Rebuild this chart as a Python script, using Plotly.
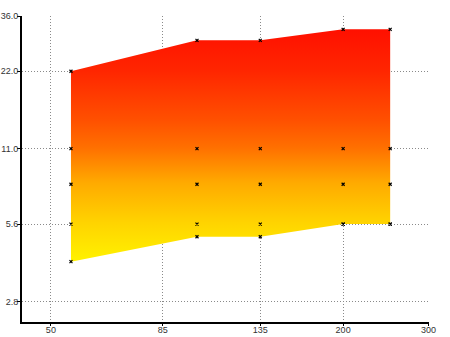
import plotly.graph_objects as go
import math

# Sample sizes along the x axis
x_vals = [55, 100, 135, 200, 250]

# Band series (low to high)
band_low = [4.0, 5.0, 5.0, 5.6, 5.6]
level_a = [5.6, 5.6, 5.6, 5.6, 5.6]
level_b = [8.0, 8.0, 8.0, 8.0, 8.0]
level_c = [11.0, 11.0, 11.0, 11.0, 11.0]
band_high = [22.0, 29.0, 29.0, 32.0, 32.0]

x_ticks = [50, 85, 135, 200, 300]
x_tick_text = ["50", "85", "135", "200", "300"]
y_ticks = [2.8, 5.6, 11.0, 22.0, 36.0]
y_tick_text = ["2.8", "5.6", "11.0", "22.0", "36.0"]

grad = [
    [0.0, "#fff200"],
    [0.165, "#ffd400"],
    [0.34, "#ffaa00"],
    [0.49, "#ff7000"],
    [0.61, "#ff5000"],
    [0.82, "#ff2600"],
    [1.0, "#ff1000"],
]

fig = go.Figure()

# Filled band between the lowest and highest series
fig.add_trace(go.Scatter(
    x=x_vals + x_vals[::-1],
    y=band_high + band_low[::-1],
    mode="lines",
    line=dict(width=0),
    fill="toself",
    fillgradient=dict(type="vertical", colorscale=grad),
    hoverinfo="skip",
    showlegend=False,
))

# Markers for every series
for series in [band_low, level_a, level_b, level_c, band_high]:
    fig.add_trace(go.Scatter(
        x=x_vals, y=series,
        mode="markers",
        marker=dict(symbol="x-thin", size=3, color="black",
                    line=dict(width=1.2, color="black")),
        showlegend=False,
    ))

axis_font = dict(family="Liberation Sans, Arial, sans-serif", size=9, color="#333333")
grid_dash = "1px,2px"

fig.update_xaxes(
    type="log",
    range=[math.log10(43.6), math.log10(300) + 0.0008],
    tickvals=x_ticks, ticktext=x_tick_text,
    showgrid=True, gridcolor="#8a8a8a", griddash=grid_dash, gridwidth=1,
    showline=True, linecolor="black", linewidth=2,
    ticks="outside", ticklen=2, tickcolor="black", tickwidth=1,
    tickfont=axis_font, zeroline=False, automargin=False,
    ticklabelstandoff=-4,
)
fig.update_yaxes(
    type="log",
    range=[math.log10(2.33), math.log10(36) + 0.0008],
    tickvals=y_ticks, ticktext=y_tick_text,
    showgrid=True, gridcolor="#8a8a8a", griddash=grid_dash, gridwidth=1,
    showline=True, linecolor="black", linewidth=2,
    ticks="outside", ticklen=3, tickcolor="black", tickwidth=1,
    tickfont=axis_font, zeroline=False, automargin=False,
    ticklabelstandoff=-3,
)

fig.update_layout(
    width=450, height=337, autosize=False,
    margin=dict(l=22, r=21, t=16, b=15),
    paper_bgcolor="white", plot_bgcolor="white",
)

fig.write_html("out.html")
